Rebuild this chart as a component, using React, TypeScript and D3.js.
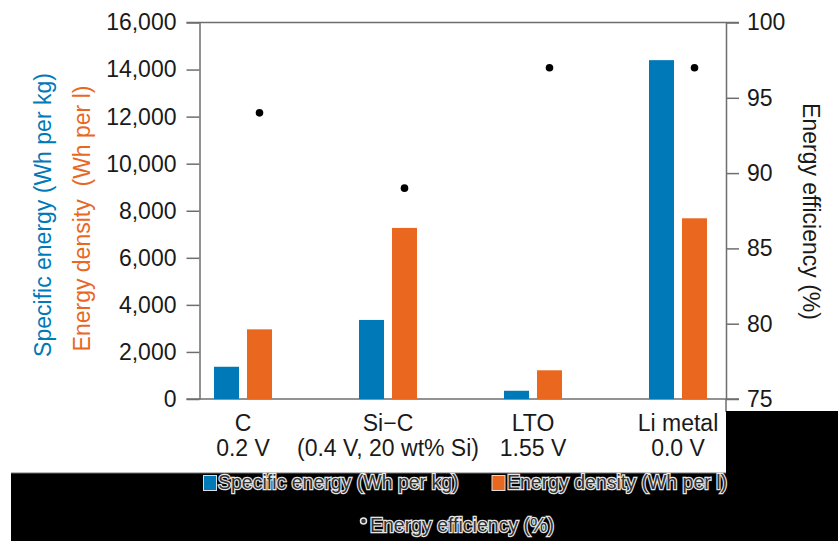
import React, { useEffect, useRef } from "react";
import * as d3 from "d3";

// anode materials and their cell voltages
const categories = ["C", "Si\u2212C", "LTO", "Li metal"];
const voltages = ["0.2 V", "(0.4 V, 20 wt% Si)", "1.55 V", "0.0 V"];

// values
const specificEnergy = [1370, 3360, 350, 14400]; // Wh per kg
const energyDensity = [2960, 7270, 1220, 7680]; // Wh per l
const efficiency = [94, 89, 97, 97]; // %

const leftTicks = [0, 2000, 4000, 6000, 8000, 10000, 12000, 14000, 16000];
const rightTicks = [75, 80, 85, 90, 95, 100];
const seriesKeys = ["specific", "density"];

const BLUE = "#0079b8";
const ORANGE = "#e9671f";
const AXIS = "#6e6e6e";
const FONT = "'Liberation Sans', Arial, Helvetica, sans-serif";

const App = () => {
  const visualRef = useRef<SVGSVGElement>(null);

  useEffect(() => {
    const width = 838;
    const height = 541;
    const plot = { left: 199.5, right: 726, top: 22.5, bottom: 399 };

    const svg = d3.select(visualRef.current);
    svg.selectAll("*").remove();
    svg.attr("width", width).attr("height", height);

    const x = d3.scaleBand().domain(categories).range([170.5, 750.5]);
    const xInner = d3
      .scaleBand()
      .domain(seriesKeys)
      .range([-29, 29])
      .paddingInner(0.242);
    const yLeft = d3
      .scaleLinear()
      .domain([0, 16000])
      .range([plot.bottom, plot.top]);
    const yRight = d3
      .scaleLinear()
      .domain([75, 100])
      .range([plot.bottom, plot.top]);

    const center = (c) => x(c) + x.bandwidth() / 2;

    // frame lines (top + bottom run across the ticks)
    svg
      .append("line")
      .attr("x1", plot.left - 13)
      .attr("x2", plot.right + 13)
      .attr("y1", plot.top)
      .attr("y2", plot.top)
      .attr("stroke", AXIS)
      .attr("stroke-width", 1.5);
    svg
      .append("line")
      .attr("x1", plot.left - 13)
      .attr("x2", plot.right + 13)
      .attr("y1", plot.bottom)
      .attr("y2", plot.bottom)
      .attr("stroke", AXIS)
      .attr("stroke-width", 1.5);
    svg
      .append("line")
      .attr("x1", plot.right)
      .attr("x2", plot.right)
      .attr("y1", plot.bottom)
      .attr("y2", 412)
      .attr("stroke", AXIS)
      .attr("stroke-width", 1.5);

    const styleAxis = (g) => {
      g.selectAll("path").attr("stroke", AXIS).attr("stroke-width", 1.5);
      g.selectAll("line").attr("stroke", AXIS).attr("stroke-width", 1.5);
      g.selectAll("text")
        .attr("fill", "#1a1a1a")
        .style("font-family", FONT)
        .style("font-size", "23px");
    };

    svg
      .append("g")
      .attr("transform", `translate(${plot.left},0)`)
      .call(
        d3
          .axisLeft(yLeft)
          .tickValues(leftTicks)
          .tickFormat(d3.format(","))
          .tickSize(13)
          .tickSizeOuter(0)
          .tickPadding(10)
      )
      .call(styleAxis);

    svg
      .append("g")
      .attr("transform", `translate(${plot.right},0)`)
      .call(
        d3
          .axisRight(yRight)
          .tickValues(rightTicks)
          .tickSize(13)
          .tickSizeOuter(0)
          .tickPadding(8)
      )
      .call(styleAxis);

    // bars
    const bars = svg.append("g");
    categories.forEach((c, i) => {
      [specificEnergy[i], energyDensity[i]].forEach((v, k) => {
        bars
          .append("rect")
          .attr("x", center(c) + xInner(seriesKeys[k]))
          .attr("width", xInner.bandwidth())
          .attr("y", yLeft(v))
          .attr("height", yLeft(0) - yLeft(v))
          .attr("fill", k === 0 ? BLUE : ORANGE);
      });
    });

    // efficiency dots, above the density bars
    svg
      .append("g")
      .selectAll("circle")
      .data(categories)
      .join("circle")
      .attr("cx", (c) => center(c) + xInner("density") + xInner.bandwidth() / 2)
      .attr("cy", (c, i) => yRight(efficiency[i]))
      .attr("r", 3.8)
      .attr("fill", "#000");

    // category labels
    const cat = svg
      .append("g")
      .style("font-family", FONT)
      .style("font-size", "23px")
      .attr("fill", "#1a1a1a")
      .attr("text-anchor", "middle");
    categories.forEach((c, i) => {
      cat.append("text").attr("x", center(c)).attr("y", 430.5).text(c);
      cat.append("text").attr("x", center(c)).attr("y", 455.5).text(voltages[i]);
    });

    // axis titles
    const title = (tx, ty, rot, color, label) =>
      svg
        .append("text")
        .attr("transform", `translate(${tx},${ty}) rotate(${rot})`)
        .attr("text-anchor", "middle")
        .attr("fill", color)
        .style("font-family", FONT)
        .style("font-size", "23px")
        .style("white-space", "pre")
        .text(label);
    title(51, 215, -90, BLUE, "Specific energy (Wh per kg)");
    title(90, 218.5, -90, ORANGE, "Energy density  (Wh per l)");
    title(803, 211.5, 90, "#1a1a1a", "Energy efficiency (%)");

    // black strip behind the legend
    svg
      .append("rect")
      .attr("x", plot.right)
      .attr("y", 411)
      .attr("width", width - plot.right)
      .attr("height", 62)
      .attr("fill", "#000");
    svg
      .append("rect")
      .attr("x", 11)
      .attr("y", 473)
      .attr("width", width - 11)
      .attr("height", height - 473)
      .attr("fill", "#000");
    svg
      .append("line")
      .attr("x1", 11)
      .attr("x2", plot.right)
      .attr("y1", 473)
      .attr("y2", 473)
      .attr("stroke", "#777")
      .attr("stroke-width", 1);

    // legend
    const legend = svg
      .append("g")
      .style("font-family", FONT)
      .style("font-size", "19.5px");
    const legendText = (lx, ly, label) =>
      legend
        .append("text")
        .attr("x", lx)
        .attr("y", ly)
        .attr("fill", "#333")
        .attr("stroke", "#e6e6e6")
        .attr("stroke-width", 2.4)
        .style("paint-order", "stroke")
        .text(label);

    legend
      .append("rect")
      .attr("x", 203.5)
      .attr("y", 475.5)
      .attr("width", 13)
      .attr("height", 15)
      .attr("fill", BLUE)
      .attr("stroke", "#ddd")
      .attr("stroke-width", 1);
    legendText(218, 489, "Specific energy (Wh per kg)");

    legend
      .append("rect")
      .attr("x", 492)
      .attr("y", 475.5)
      .attr("width", 13)
      .attr("height", 15)
      .attr("fill", ORANGE)
      .attr("stroke", "#ddd")
      .attr("stroke-width", 1);
    legendText(507, 489, "Energy density (Wh per l)");

    legend
      .append("circle")
      .attr("cx", 363.5)
      .attr("cy", 521)
      .attr("r", 3)
      .attr("fill", "#333")
      .attr("stroke", "#e6e6e6")
      .attr("stroke-width", 1.5);
    legendText(370, 532, "Energy efficiency (%)");
  }, []);

  return (
    <div style={{ position: "fixed", left: 0, top: 0, background: "#fff" }}>
      <svg ref={visualRef} style={{ display: "block" }} />
    </div>
  );
};

export default App;
